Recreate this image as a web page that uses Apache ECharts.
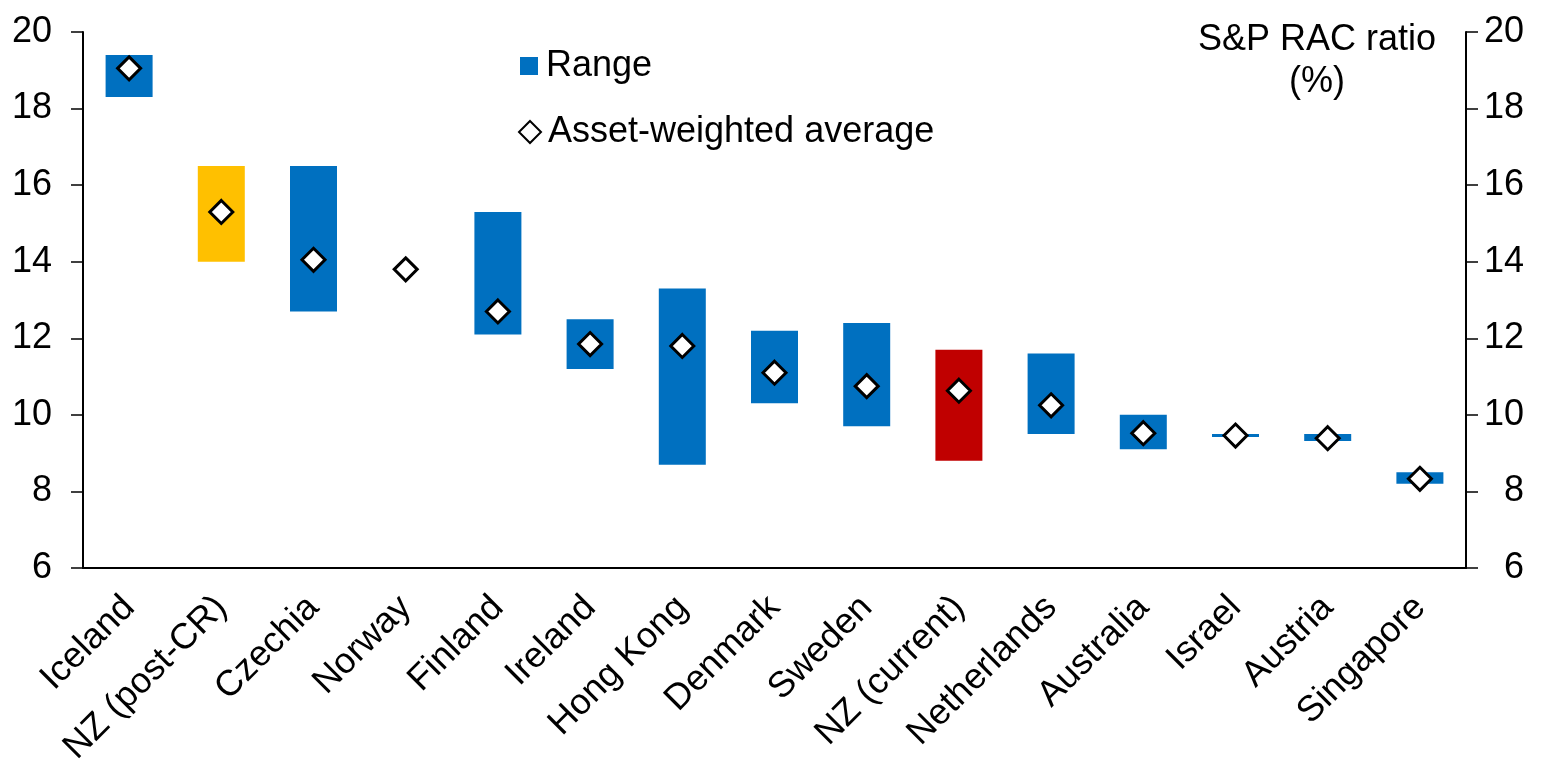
<!DOCTYPE html>
<html>
<head>
<meta charset="utf-8">
<script src="https://cdn.jsdelivr.net/npm/echarts@6/dist/echarts.min.js"></script>
<style>
html,body{margin:0;padding:0;background:#fff;}
#chart{width:1542px;height:780px;}
</style>
</head>
<body>
<div id="chart"></div>
<script>
const categories = ['Iceland','NZ (post-CR)','Czechia','Norway','Finland','Ireland','Hong Kong','Denmark','Sweden','NZ (current)','Netherlands','Australia','Israel','Austria','Singapore'];
const rangeLow  = [18.3, 14.0, 12.7, null, 12.1, 11.2, 8.7, 10.3, 9.7, 8.8, 9.5, 9.1, 9.42, 9.32, 8.2];
const rangeHigh = [19.4, 16.5, 16.5, null, 15.3, 12.5, 13.3, 12.2, 12.4, 11.7, 11.6, 10.0, 9.5, 9.5, 8.5];
const average   = [19.05, 15.3, 14.05, 13.8, 12.7, 11.85, 11.8, 11.1, 10.75, 10.63, 10.25, 9.52, 9.46, 9.39, 8.33];
const barColors = ['#0070C0','#FFC000','#0070C0','#0070C0','#0070C0','#0070C0','#0070C0','#0070C0','#0070C0','#C00000','#0070C0','#0070C0','#0070C0','#0070C0','#0070C0'];
const yTicks = {min: 6, max: 20, interval: 2};

const FONT = "'Liberation Sans', Arial, sans-serif";

const baseData = rangeLow.map(v => v == null ? '-' : v);
const spanData = rangeLow.map((v, i) => v == null ? '-' : {
  value: +(rangeHigh[i] - v).toFixed(4),
  itemStyle: {color: barColors[i]}
});

const chart = echarts.init(document.getElementById('chart'), null, {renderer: 'canvas'});
const yAxisCommon = {
  type: 'value',
  min: yTicks.min, max: yTicks.max, interval: yTicks.interval,
  splitLine: {show: false},
  axisLine: {show: true, lineStyle: {color: '#000', width: 2}},
  axisTick: {show: true, inside: false, length: 12, lineStyle: {color: '#000', width: 1.5}},
};
chart.setOption({
  animation: false,
  backgroundColor: '#fff',
  grid: {left: 83, right: 76, top: 32, bottom: 212, containLabel: false},
  xAxis: {
    type: 'category',
    data: categories,
    axisLine: {show: true, onZero: false, lineStyle: {color: '#000', width: 2}},
    axisTick: {show: false},
    axisLabel: {
      rotate: 45, interval: 0, margin: 34,
      fontFamily: FONT, fontSize: 36, color: '#000'
    }
  },
  yAxis: [
    Object.assign({}, yAxisCommon, {
      position: 'left',
      axisLabel: {margin: 31, fontFamily: FONT, fontSize: 36, color: '#000'}
    }),
    Object.assign({}, yAxisCommon, {
      position: 'right',
      axisLabel: {margin: 58, align: 'right', fontFamily: FONT, fontSize: 36, color: '#000'}
    })
  ],
  legend: [
    {
      data: [{name: 'Range', icon: 'rect'}],
      left: 520, top: 46, padding: 0,
      itemWidth: 18, itemHeight: 18,
      textStyle: {fontFamily: FONT, fontSize: 36, color: '#000', lineHeight: 40, padding: [0, 0, 0, 3]}
    },
    {
      data: [{name: 'Asset-weighted average', icon: 'diamond', itemStyle: {borderWidth: 2}}],
      left: 518, top: 112, padding: 0,
      itemWidth: 22, itemHeight: 22,
      textStyle: {fontFamily: FONT, fontSize: 36, color: '#000', lineHeight: 40, padding: [0, 0, 0, 2]}
    }
  ],
  graphic: [{
    type: 'text',
    x: 1317, y: 19,
    style: {
      text: 'S&P RAC ratio\n(%)',
      align: 'center',
      fontFamily: FONT, fontSize: 36, lineHeight: 42, fill: '#000'
    }
  }],
  series: [
    {
      name: 'base', type: 'bar', stack: 'r', data: baseData,
      barWidth: 47, itemStyle: {color: 'rgba(0,0,0,0)'},
      silent: true
    },
    {
      name: 'Range', type: 'bar', stack: 'r', data: spanData,
      barWidth: 47, itemStyle: {color: '#0070C0'}
    },
    {
      name: 'Asset-weighted average', type: 'scatter', data: average,
      symbol: 'diamond', symbolSize: 23,
      itemStyle: {color: '#fff', borderColor: '#000', borderWidth: 3, opacity: 1},
      z: 5
    }
  ]
});
</script>
</body>
</html>
